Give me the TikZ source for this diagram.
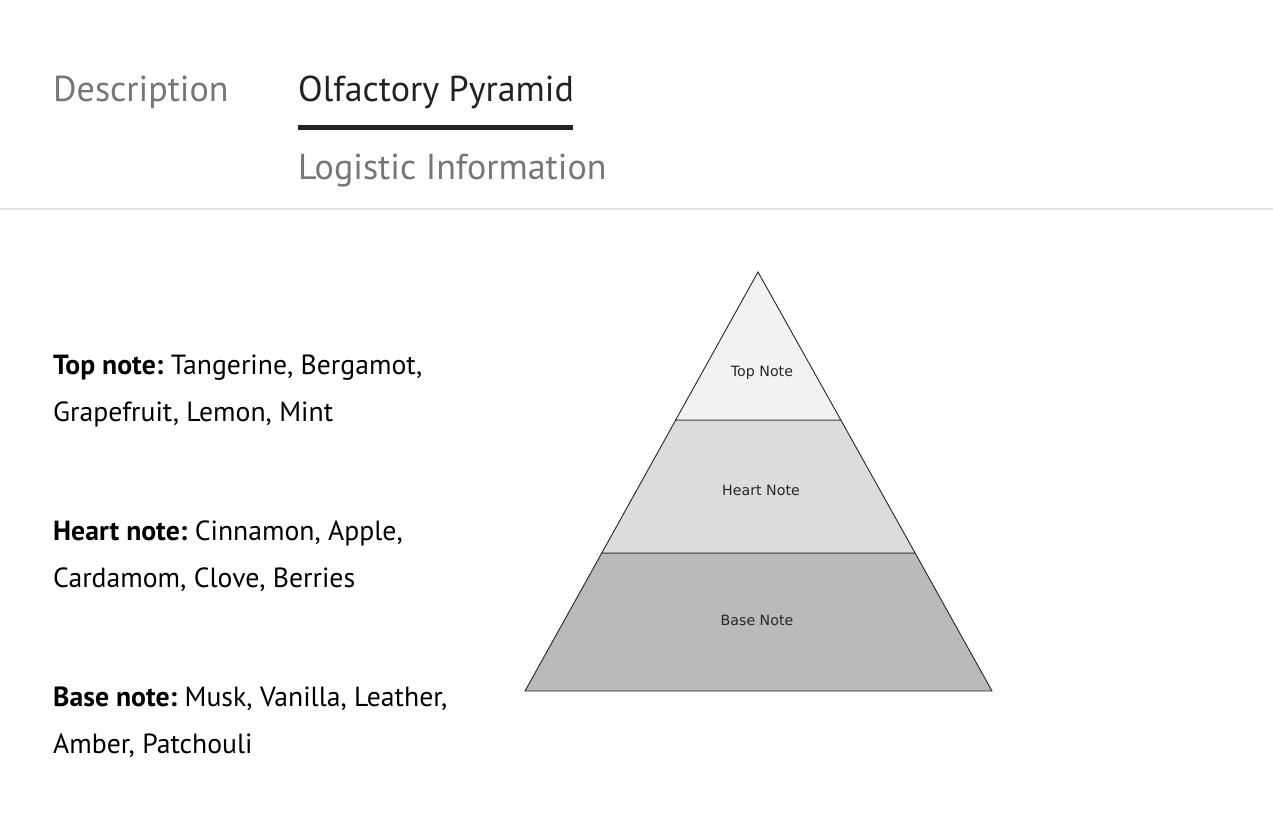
\documentclass[tikz,border=0pt]{standalone}
\usepackage{fontspec}
\setmainfont{PT Sans}
\newfontfamily\pyrfont{DejaVu Sans}
\definecolor{tabgray}{HTML}{777777}
\definecolor{tabdark}{HTML}{222222}
\definecolor{rulegray}{HTML}{E2E2E2}
\definecolor{topfill}{HTML}{F2F2F2}
\definecolor{heartfill}{HTML}{DCDCDC}
\definecolor{basefill}{HTML}{BABABA}
\tikzset{
  tab/.style={anchor=base west, inner sep=0pt, font=\fontsize{36}{40}\selectfont},
  note/.style={anchor=base west, inner sep=0pt, font=\fontsize{27.7}{30}\selectfont, text=black},
  pyrlabel/.style={inner sep=0pt, font=\pyrfont\fontsize{14.2}{16}\selectfont, text=black!85},
  layer/.style={draw=black!85, line width=0.9pt, line join=miter}
}
\newcommand{\gapsp}{\hspace{7.5pt}}
\begin{document}
\begin{tikzpicture}[x=1pt,y=-1pt]
\useasboundingbox (0,0) rectangle (1273,827);
\fill[white] (0,0) rectangle (1273,827);
% tabs
\node[tab, text=tabgray] (desc) at (53,101) {Description};
\node[tab, text=tabdark] (olf) at (298,101) {Olfactory Pyramid};
\node[tab, text=tabgray] (logi) at (298,179) {Logistic Information};
\fill[tabdark] (298,125) rectangle (573,129.5);
\draw[rulegray, line width=1.5pt] (0,209) -- (1273,209);
% notes text
\node[note] (t1) at (53,374) {\textbf{Top note:}\gapsp Tangerine, Bergamot,};
\node[note] (t2) at (53,421) {Grapefruit, Lemon, Mint};
\node[note] (h1) at (53,540) {\textbf{Heart note:}\gapsp Cinnamon, Apple,};
\node[note] (h2) at (53,587) {Cardamom, Clove, Berries};
\node[note] (b1) at (53,706) {\textbf{Base note:}\gapsp Musk, Vanilla, Leather,};
\node[note] (b2) at (53,753) {Amber, Patchouli};
% pyramid
\coordinate (apex) at (758,272);
\coordinate (l1) at (675.7,420);
\coordinate (r1) at (840.8,420);
\coordinate (l2) at (601.8,553);
\coordinate (r2) at (915.1,553);
\coordinate (bl) at (525,691);
\coordinate (br) at (992,691);
\draw[layer, fill=basefill] (l2) -- (r2) -- (br) -- (bl) -- cycle;
\draw[layer, fill=heartfill] (l1) -- (r1) -- (r2) -- (l2) -- cycle;
\draw[layer, fill=topfill] (apex) -- (r1) -- (l1) -- cycle;
\node[pyrlabel] (topl) at (762,373) {Top Note};
\node[pyrlabel] (heartl) at (761,490) {Heart Note};
\node[pyrlabel] (basel) at (757,620) {Base Note};
\end{tikzpicture}
\end{document}
